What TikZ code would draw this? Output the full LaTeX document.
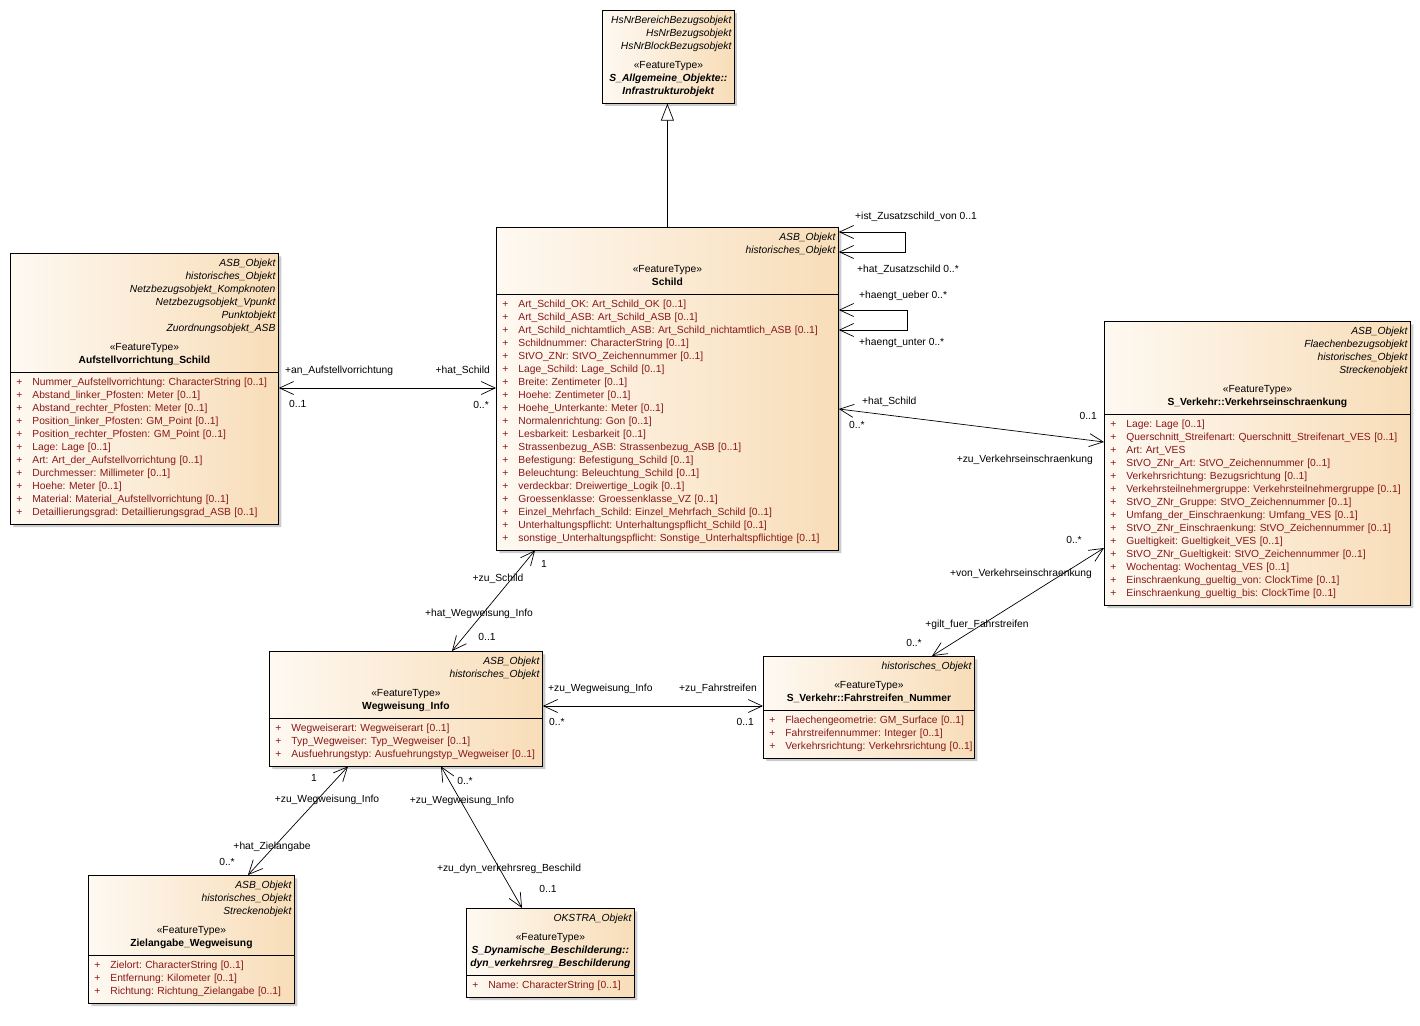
\documentclass[tikz,border=0pt]{standalone}
\usepackage{fontspec}
\setmainfont{Liberation Sans}
\usetikzlibrary{arrows.meta,shapes.multipart,shadows}
\definecolor{boxleft}{RGB}{254,249,242}
\definecolor{boxright}{RGB}{248,221,184}
\definecolor{attrred}{RGB}{138,24,24}
\setlength{\parindent}{0pt}
\setlength{\parskip}{0pt}
\frenchspacing
\newcommand{\umlfont}{\fontsize{10.3}{13}\selectfont}
\newcommand{\umlparent}[1]{\noindent\hbox to\hsize{\hfill\itshape #1\strut}\par}
\newcommand{\umlname}[1]{\noindent\hbox to\hsize{\hfil #1\strut\hfil}\par}
\newcommand{\umlattr}[1]{\noindent\hbox to\hsize{\color{attrred}\hspace*{3pt}\makebox[16pt][l]{+}#1\strut\hfil}\par}
\newcommand{\umlgap}{\vspace{6pt}}
\tikzset{
  classbox/.style={rectangle split, rectangle split parts=2, draw=black, line width=0.8pt,
    left color=boxleft, right color=boxright,
    drop shadow={shadow xshift=3pt,shadow yshift=-3pt,fill=black!20,opacity=1},
    inner xsep=3pt, inner ysep=4pt, anchor=north west, font=\umlfont},
  assoc/.style={<->, >={Straight Barb[length=14pt,width=13pt]}, line width=0.7pt},
  inherit/.style={-{Triangle[open,fill=white,length=17pt,width=13pt]}, line width=0.7pt},
  lbl/.style={font=\umlfont, inner sep=0pt}
}
\begin{document}
\begin{tikzpicture}[x=1pt,y=-1pt]
\fill[white] (0,0) rectangle (1420,1025);
\useasboundingbox (0,0) rectangle (1420,1025);
\node[classbox, rectangle split parts=1, text width=126pt] (infra) at (602,10) {%
\umlparent{HsNrBereichBezugsobjekt}
\umlparent{HsNrBezugsobjekt}
\umlparent{HsNrBlockBezugsobjekt}
\umlgap
\umlname{«FeatureType»}
\umlname{\textbf{\itshape S\_Allgemeine\_Objekte::}}
\umlname{\textbf{\itshape Infrastrukturobjekt}}
};
\node[classbox, text width=336pt] (schild) at (496,227) {%
\umlparent{ASB\_Objekt}
\umlparent{historisches\_Objekt}
\umlgap
\umlname{«FeatureType»}
\umlname{\textbf{Schild}}
\nodepart{two}%
\umlattr{Art\_Schild\_OK: Art\_Schild\_OK [0..1]}
\umlattr{Art\_Schild\_ASB: Art\_Schild\_ASB [0..1]}
\umlattr{Art\_Schild\_nichtamtlich\_ASB: Art\_Schild\_nichtamtlich\_ASB [0..1]}
\umlattr{Schildnummer: CharacterString [0..1]}
\umlattr{StVO\_ZNr: StVO\_Zeichennummer [0..1]}
\umlattr{Lage\_Schild: Lage\_Schild [0..1]}
\umlattr{Breite: Zentimeter [0..1]}
\umlattr{Hoehe: Zentimeter [0..1]}
\umlattr{Hoehe\_Unterkante: Meter [0..1]}
\umlattr{Normalenrichtung: Gon [0..1]}
\umlattr{Lesbarkeit: Lesbarkeit [0..1]}
\umlattr{Strassenbezug\_ASB: Strassenbezug\_ASB [0..1]}
\umlattr{Befestigung: Befestigung\_Schild [0..1]}
\umlattr{Beleuchtung: Beleuchtung\_Schild [0..1]}
\umlattr{verdeckbar: Dreiwertige\_Logik [0..1]}
\umlattr{Groessenklasse: Groessenklasse\_VZ [0..1]}
\umlattr{Einzel\_Mehrfach\_Schild: Einzel\_Mehrfach\_Schild [0..1]}
\umlattr{Unterhaltungspflicht: Unterhaltungspflicht\_Schild [0..1]}
\umlattr{sonstige\_Unterhaltungspflicht: Sonstige\_Unterhaltspflichtige [0..1]}
};
\node[classbox, text width=262pt] (aufstell) at (10,253) {%
\umlparent{ASB\_Objekt}
\umlparent{historisches\_Objekt}
\umlparent{Netzbezugsobjekt\_Kompknoten}
\umlparent{Netzbezugsobjekt\_Vpunkt}
\umlparent{Punktobjekt}
\umlparent{Zuordnungsobjekt\_ASB}
\umlgap
\umlname{«FeatureType»}
\umlname{\textbf{Aufstellvorrichtung\_Schild}}
\nodepart{two}%
\umlattr{Nummer\_Aufstellvorrichtung: CharacterString [0..1]}
\umlattr{Abstand\_linker\_Pfosten: Meter [0..1]}
\umlattr{Abstand\_rechter\_Pfosten: Meter [0..1]}
\umlattr{Position\_linker\_Pfosten: GM\_Point [0..1]}
\umlattr{Position\_rechter\_Pfosten: GM\_Point [0..1]}
\umlattr{Lage: Lage [0..1]}
\umlattr{Art: Art\_der\_Aufstellvorrichtung [0..1]}
\umlattr{Durchmesser: Millimeter [0..1]}
\umlattr{Hoehe: Meter [0..1]}
\umlattr{Material: Material\_Aufstellvorrichtung [0..1]}
\umlattr{Detaillierungsgrad: Detaillierungsgrad\_ASB [0..1]}
};
\node[classbox, text width=300pt] (verkehr) at (1104,321) {%
\umlparent{ASB\_Objekt}
\umlparent{Flaechenbezugsobjekt}
\umlparent{historisches\_Objekt}
\umlparent{Streckenobjekt}
\umlgap
\umlname{«FeatureType»}
\umlname{\textbf{S\_Verkehr::Verkehrseinschraenkung}}
\nodepart{two}%
\umlattr{Lage: Lage [0..1]}
\umlattr{Querschnitt\_Streifenart: Querschnitt\_Streifenart\_VES [0..1]}
\umlattr{Art: Art\_VES}
\umlattr{StVO\_ZNr\_Art: StVO\_Zeichennummer [0..1]}
\umlattr{Verkehrsrichtung: Bezugsrichtung [0..1]}
\umlattr{Verkehrsteilnehmergruppe: Verkehrsteilnehmergruppe [0..1]}
\umlattr{StVO\_ZNr\_Gruppe: StVO\_Zeichennummer [0..1]}
\umlattr{Umfang\_der\_Einschraenkung: Umfang\_VES [0..1]}
\umlattr{StVO\_ZNr\_Einschraenkung: StVO\_Zeichennummer [0..1]}
\umlattr{Gueltigkeit: Gueltigkeit\_VES [0..1]}
\umlattr{StVO\_ZNr\_Gueltigkeit: StVO\_Zeichennummer [0..1]}
\umlattr{Wochentag: Wochentag\_VES [0..1]}
\umlattr{Einschraenkung\_gueltig\_von: ClockTime [0..1]}
\umlattr{Einschraenkung\_gueltig\_bis: ClockTime [0..1]}
};
\node[classbox, text width=267pt] (wegweis) at (269,651) {%
\umlparent{ASB\_Objekt}
\umlparent{historisches\_Objekt}
\umlgap
\umlname{«FeatureType»}
\umlname{\textbf{Wegweisung\_Info}}
\nodepart{two}%
\umlattr{Wegweiserart: Wegweiserart [0..1]}
\umlattr{Typ\_Wegweiser: Typ\_Wegweiser [0..1]}
\umlattr{Ausfuehrungstyp: Ausfuehrungstyp\_Wegweiser [0..1]}
};
\node[classbox, text width=205pt] (fahr) at (763,656) {%
\umlparent{historisches\_Objekt}
\umlgap
\umlname{«FeatureType»}
\umlname{\textbf{S\_Verkehr::Fahrstreifen\_Nummer}}
\nodepart{two}%
\umlattr{Flaechengeometrie: GM\_Surface [0..1]}
\umlattr{Fahrstreifennummer: Integer [0..1]}
\umlattr{Verkehrsrichtung: Verkehrsrichtung [0..1]}
};
\node[classbox, text width=200pt] (ziel) at (88,875) {%
\umlparent{ASB\_Objekt}
\umlparent{historisches\_Objekt}
\umlparent{Streckenobjekt}
\umlgap
\umlname{«FeatureType»}
\umlname{\textbf{Zielangabe\_Wegweisung}}
\nodepart{two}%
\umlattr{Zielort: CharacterString [0..1]}
\umlattr{Entfernung: Kilometer [0..1]}
\umlattr{Richtung: Richtung\_Zielangabe [0..1]}
};
\node[classbox, text width=162pt] (okstra) at (466,908) {%
\umlparent{OKSTRA\_Objekt}
\umlgap
\umlname{«FeatureType»}
\umlname{\textbf{\itshape S\_Dynamische\_Beschilderung::}}
\umlname{\textbf{\itshape dyn\_verkehrsreg\_Beschilderung}}
\nodepart{two}%
\umlattr{Name: CharacterString [0..1]}
};
\coordinate (as1) at ([yshift=-135pt]aufstell.north east);
\coordinate (wf1) at ([yshift=-55pt]wegweis.north east);
\draw[inherit] (schild.north) -- (schild.north |- infra.south);
\draw[assoc] ([yshift=-5pt]schild.north east) -- ++(67,0) -- ++(0,20) -- ++(-67,0);
\draw[assoc] ([yshift=-83pt]schild.north east) -- ++(69,0) -- ++(0,20) -- ++(-69,0);
\draw[assoc] (as1) -- (as1 -| schild.west);
\draw[assoc] ([yshift=-182pt]schild.north east) -- ([yshift=-121pt]verkehr.north west);
\draw[assoc] ([xshift=39pt]schild.south west) -- ([xshift=183pt]wegweis.north west);
\draw[assoc] (wf1) -- (wf1 -| fahr.west);
\draw[assoc] ([xshift=169pt]fahr.north west) -- ([yshift=-227pt]verkehr.north west);
\draw[assoc] ([xshift=79pt]wegweis.south west) -- ([xshift=160pt]ziel.north west);
\draw[assoc] ([xshift=172pt]wegweis.south west) -- ([xshift=56pt]okstra.north west);
\node[lbl,anchor=west] (l1) at (855,217) {+ist\_Zusatzschild\_von 0..1};
\node[lbl,anchor=west] (l2) at (857,270) {+hat\_Zusatzschild 0..*};
\node[lbl,anchor=west] (l3) at (859,296) {+haengt\_ueber 0..*};
\node[lbl,anchor=west] (l4) at (859,343) {+haengt\_unter 0..*};
\node[lbl,anchor=west] (l5) at (285,371) {+an\_Aufstellvorrichtung};
\node[lbl,anchor=west] (l6) at (289,404) {0..1};
\node[lbl,anchor=east] (l7) at (490,371) {+hat\_Schild};
\node[lbl,anchor=east] (l8) at (489,405) {0..*};
\node[lbl,anchor=west] (l9) at (862,402) {+hat\_Schild};
\node[lbl,anchor=west] (l10) at (849,425) {0..*};
\node[lbl,anchor=east] (l11) at (1097,416) {0..1};
\node[lbl,anchor=east] (l12) at (1093,460) {+zu\_Verkehrseinschraenkung};
\node[lbl,anchor=west] (l13) at (541,564) {1};
\node[lbl] (l14) at (498,579) {+zu\_Schild};
\node[lbl] (l15) at (479,614) {+hat\_Wegweisung\_Info};
\node[lbl] (l16) at (487,637) {0..1};
\node[lbl,anchor=west] (l17) at (548,689) {+zu\_Wegweisung\_Info};
\node[lbl,anchor=west] (l18) at (549,722) {0..*};
\node[lbl,anchor=east] (l19) at (757,689) {+zu\_Fahrstreifen};
\node[lbl,anchor=east] (l20) at (754,722) {0..1};
\node[lbl] (l21) at (1074,540) {0..*};
\node[lbl] (l22) at (1021,574) {+von\_Verkehrseinschraenkung};
\node[lbl] (l23) at (977,625) {+gilt\_fuer\_Fahrstreifen};
\node[lbl] (l24) at (914,643) {0..*};
\node[lbl] (l25) at (314,778) {1};
\node[lbl] (l26) at (327,800) {+zu\_Wegweisung\_Info};
\node[lbl] (l27) at (272,847) {+hat\_Zielangabe};
\node[lbl] (l28) at (227,862) {0..*};
\node[lbl] (l29) at (465,781) {0..*};
\node[lbl] (l30) at (462,801) {+zu\_Wegweisung\_Info};
\node[lbl] (l31) at (509,869) {+zu\_dyn\_verkehrsreg\_Beschild};
\node[lbl] (l32) at (548,889) {0..1};
\end{tikzpicture}
\end{document}
